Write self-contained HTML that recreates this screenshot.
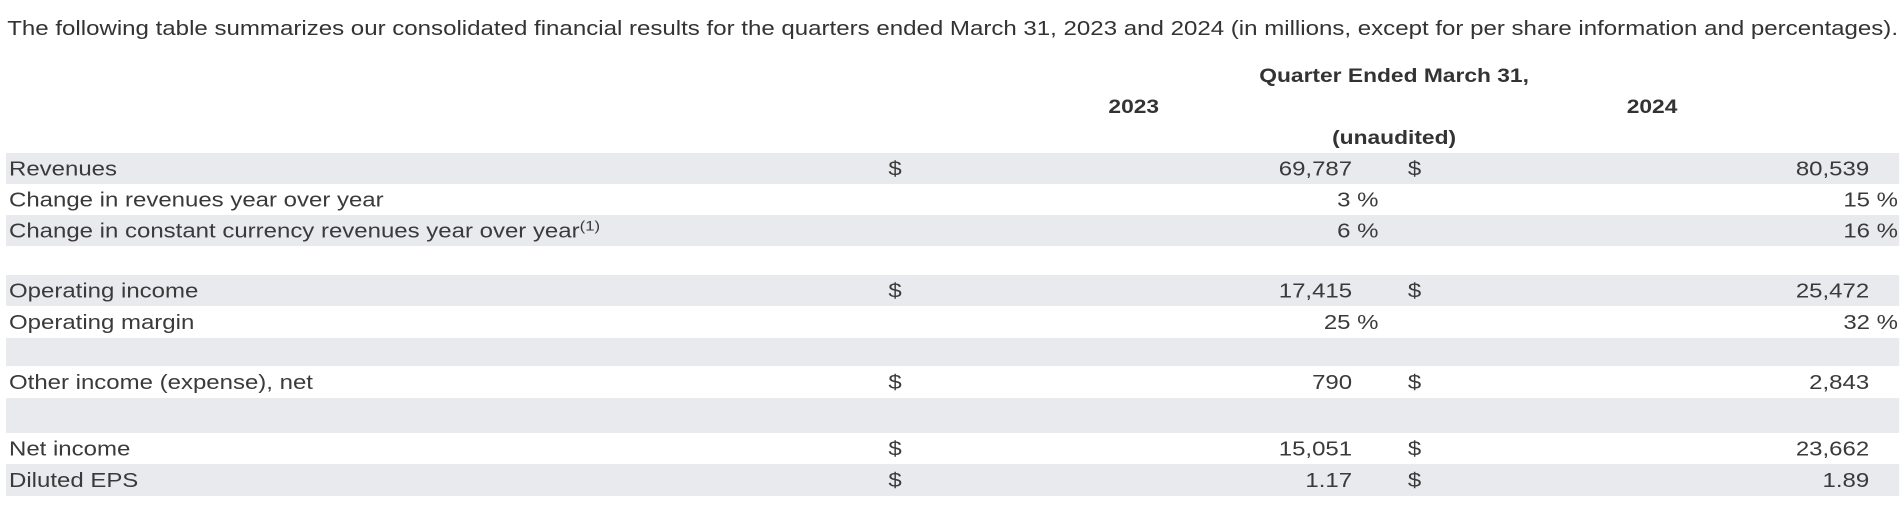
<!DOCTYPE html>
<html><head><meta charset="utf-8"><style>
html,body{margin:0;padding:0;background:#fff;}
svg{display:block;font-family:"Liberation Sans",Arial,sans-serif;}
</style></head><body>
<svg width="1904" height="515" viewBox="0 0 1587 515" preserveAspectRatio="none">
<text x="6" y="35" font-size="20" fill="#333" textLength="1576" lengthAdjust="spacingAndGlyphs">The following table summarizes our consolidated financial results for the quarters ended March 31, 2023 and 2024 (in millions, except for per share information and percentages).</text>
<text x="1162" y="82" font-size="19" font-weight="bold" fill="#333" text-anchor="middle">Quarter Ended March 31,</text>
<text x="945" y="113" font-size="19" font-weight="bold" fill="#333" text-anchor="middle">2023</text>
<text x="1377" y="113" font-size="19" font-weight="bold" fill="#333" text-anchor="middle">2024</text>
<text x="1162" y="144" font-size="19" font-weight="bold" fill="#333" text-anchor="middle">(unaudited)</text>
<g id="rows"></g>
</svg>
<script>
const labels=["Revenues","Change in revenues year over year","Change in constant currency revenues year over year","","Operating income","Operating margin","","Other income (expense), net","","Net income","Diluted EPS"];
const vals2023=["69,787","3 %","6 %","","17,415","25 %","","790","","15,051","1.17"];
const vals2024=["80,539","15 %","16 %","","25,472","32 %","","2,843","","23,662","1.89"];
const dollar=[1,0,0,0,1,0,0,1,0,1,1];
const shaded=[1,0,1,0,1,0,1,0,1,0,1];
const tops=[153,184,215,246,275,306,338,366,398,433,464,496];
const NS="http://www.w3.org/2000/svg";
const g=document.getElementById('rows');
function t(x,y,s,anchor,name){const e=document.createElementNS(NS,'text');e.setAttribute('x',x);e.setAttribute('y',y);e.setAttribute('font-size','20');e.setAttribute('fill','#3a3a3a');if(anchor)e.setAttribute('text-anchor',anchor);e.textContent=s;


g.appendChild(e);return e;}
labels.forEach((lab,i)=>{
 const y0=tops[i],y1=tops[i+1];
 if(shaded[i]){const r=document.createElementNS(NS,'rect');r.setAttribute('x',5);r.setAttribute('y',y0);r.setAttribute('width',1578);r.setAttribute('height',y1-y0);r.setAttribute('fill','#e9eaed');
 
 
 g.appendChild(r);}
 const by=(y0+y1)/2+7;
 if(lab){const e=t(7.5,by,lab,null,'row-label');
  if(i===2){const s=document.createElementNS(NS,'tspan');s.setAttribute('font-size','14');s.setAttribute('dy','-7');s.textContent='(1)';e.appendChild(s);}}
 if(dollar[i]){t(746,by,'$','middle','dollar-sign-2023');t(1179,by,'$','middle','dollar-sign-2024');}
 const pct=vals2023[i].includes('%');
 if(vals2023[i])t(pct?1149:1127,by,vals2023[i],'end','value-2023');
 if(vals2024[i])t(pct?1582:1558,by,vals2024[i],'end','value-2024');
});
</script>
</body></html>
